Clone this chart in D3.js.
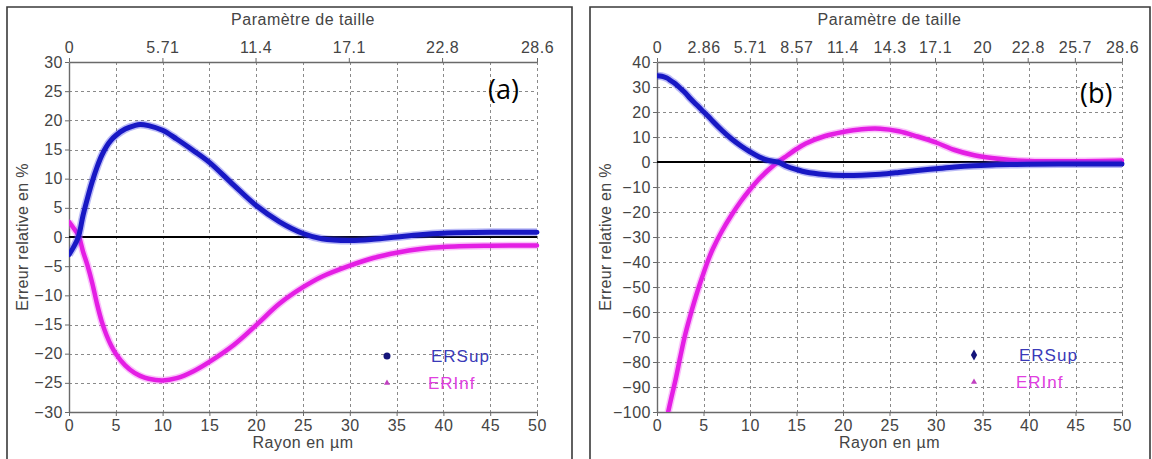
<!DOCTYPE html>
<html><head><meta charset="utf-8">
<script src="https://cdn.jsdelivr.net/npm/d3@7"></script>
<style>
html,body{margin:0;padding:0;background:#fff;}
svg{display:block;font-family:"Liberation Sans",Arial,sans-serif;}
</style></head>
<body>
<svg id="chart" width="1152" height="459"></svg>
<script>
// ---------- Data ----------
// Panel (a)
const radiusA = [0,0.5,1,1.5,2,2.5,3,3.5,4,4.5,5,6,7,7.6,8.5,10,11.5,13.3,15,17.6,20,22.5,25,27,30,32.5,35,37.5,40,45,50];
const erSupA  = [-3.0,-1.7,0,3.7,6.8,9.6,12,14.0,15.5,16.6,17.4,18.5,19.1,19.3,19.1,18.3,16.8,14.8,12.8,8.9,5.4,2.6,0.6,-0.3,-0.6,-0.4,0,0.4,0.65,0.8,0.8];
const erInfA  = [2.6,1.5,0.3,-2.5,-5,-8,-11.5,-14.5,-16.8,-18.6,-20,-22,-23.3,-23.8,-24.3,-24.6,-24.2,-23.0,-21.4,-18.5,-15.1,-11.4,-8.6,-6.8,-4.9,-3.6,-2.7,-2.05,-1.7,-1.5,-1.45];
// Panel (b)
const radiusB = [0,0.5,1,1.2,1.5,2,2.5,3,3.5,4,4.5,5,5.5,6,7,8,9,10,11,12,13,14,15,16,18,20,22,24,26,28,30,32,34,36,38,40,45,50];
const erSupB  = [34.5,34.3,33.7,33.3,32.5,31.2,29.5,27.8,25.7,23.8,22,20.1,18.3,16.3,12.6,9.3,6.5,4.1,2.0,0.6,0,-1.8,-3.0,-4.0,-5.0,-5.4,-5.3,-4.9,-4.2,-3.4,-2.7,-2.0,-1.5,-1.2,-1.0,-0.9,-0.8,-0.8];
const erInfB  = [null,null,null,-100,-95,-87,-78,-69.5,-62.5,-56,-50,-44.5,-39.3,-34.8,-27.5,-21.3,-15.8,-11,-6.7,-3.1,0,2.6,5.2,7.4,10.3,12.0,13.1,13.3,12.3,10.2,7.8,4.8,2.8,1.6,0.8,0.4,0.3,0.6];

const xTicks = [0,5,10,15,20,25,30,35,40,45,50];
const yTicksA = [-30,-25,-20,-15,-10,-5,0,5,10,15,20,25,30];
const yTicksB = [-100,-90,-80,-70,-60,-50,-40,-30,-20,-10,0,10,20,30,40];
const topLabelsA = ["0","5.71","11.4","17.1","22.8","28.6"];
const topLabelsB = ["0","2.86","5.71","8.57","11.4","14.3","17.1","20","22.8","25.7","28.6"];
const seriesNames = ["ERSup","ERInf"];

// ---------- Drawing ----------
const svg = d3.select("#chart");
const BLUE = "#1818c4", MAG = "#e41ee4";
const TXT = "#444";

function panel(cfg){
  const g = svg.append("g");
  // outer frame
  g.append("path").attr("d", `M${cfg.fx0},470 V7 H${cfg.fx1} V470`)
    .attr("fill","none").attr("stroke","#3a3a3a").attr("stroke-width",1.6);

  const x = d3.scaleLinear().domain([0,50]).range([cfg.l, cfg.r]);
  const y = d3.scaleLinear().domain(cfg.ydom).range([cfg.b, cfg.t]);
  const xTop = d3.scaleLinear().domain([0,28.6]).range([cfg.l, cfg.r]);

  // grid
  const grid = g.append("g").attr("stroke","#8a8a8a").attr("stroke-width",1).attr("stroke-dasharray","3,3");
  grid.selectAll("line.v").data(xTicks.slice(1)).join("line")
    .attr("x1",d=>Math.round(x(d))+0.5).attr("x2",d=>Math.round(x(d))+0.5)
    .attr("y1",cfg.t).attr("y2",cfg.b);
  grid.selectAll("line.h").data(cfg.yTicks.filter(v=>v!==0 && v!==cfg.ydom[0] && v!==cfg.ydom[1])).join("line")
    .attr("y1",d=>Math.round(y(d))+0.5).attr("y2",d=>Math.round(y(d))+0.5)
    .attr("x1",cfg.l).attr("x2",cfg.r);

  // axes
  const styleAxis = (sel)=>{
    sel.select(".domain").attr("stroke","#6a6a6a").attr("stroke-width",1.4);
    sel.selectAll(".tick line").attr("stroke","#6a6a6a");
    sel.selectAll(".tick text").attr("fill",TXT).attr("font-size",16).style("letter-spacing","0.5px");
  };
  g.append("g").attr("transform",`translate(0,${cfg.b})`)
    .call(d3.axisBottom(x).tickValues(xTicks).tickSize(4).tickSizeOuter(0).tickPadding(4))
    .call(styleAxis);
  g.append("g").attr("transform",`translate(${cfg.l},0)`)
    .call(d3.axisLeft(y).tickValues(cfg.yTicks).tickSize(4).tickSizeOuter(0).tickPadding(2))
    .call(styleAxis);
  const topVals = cfg.topLabels.map(Number);
  g.append("g").attr("transform",`translate(0,${cfg.t})`)
    .call(d3.axisTop(xTop).tickValues(topVals).tickFormat((d,i)=>cfg.topLabels[i]).tickSize(4).tickSizeOuter(0).tickPadding(5))
    .call(styleAxis);

  // zero line
  g.append("line").attr("x1",cfg.l).attr("x2",cfg.r)
    .attr("y1",y(0)).attr("y2",y(0)).attr("stroke","#000").attr("stroke-width",2);

  // curves
  const clipId = "clip"+cfg.id;
  g.append("clipPath").attr("id",clipId).append("rect")
    .attr("x",cfg.l).attr("y",cfg.t-3).attr("width",cfg.r-cfg.l+3).attr("height",cfg.b-cfg.t+3);
  const line = d3.line().defined(d=>d[1]!=null).x(d=>x(d[0])).y(d=>y(d[1])).curve(d3.curveCatmullRom.alpha(0.5));
  const series = [
    {vals: cfg.inf, color: MAG, w: 4.5, halo:"rgba(240,80,240,0.35)"},
    {vals: cfg.sup, color: BLUE, w: 5, halo:"rgba(60,60,230,0.35)"}
  ];
  const cg = g.append("g").attr("clip-path",`url(#${clipId})`);
  series.forEach(s=>{
    const pts = cfg.radius.map((r,i)=>[r,s.vals[i]]);
    cg.append("path").attr("d",line(pts)).attr("fill","none")
      .attr("stroke",s.halo).attr("stroke-width",s.w+3).attr("stroke-linejoin","round");
    cg.append("path").attr("d",line(pts)).attr("fill","none")
      .attr("stroke",s.color).attr("stroke-width",s.w).attr("stroke-linejoin","round").attr("stroke-linecap","round");
  });

  // titles
  const cx = (cfg.l+cfg.r)/2;
  g.append("text").attr("x",cx).attr("y",25).attr("text-anchor","middle")
    .attr("fill",TXT).attr("font-size",16).style("letter-spacing","0.5px").text("Paramètre de taille");
  g.append("text").attr("x",cx).attr("y",448).attr("text-anchor","middle")
    .attr("fill",TXT).attr("font-size",16).style("letter-spacing","0.5px").text("Rayon en µm");
  g.append("text").attr("transform",`translate(${cfg.fx0+21},${(cfg.t+cfg.b)/2}) rotate(-90)`)
    .attr("text-anchor","middle").attr("fill",TXT).attr("font-size",16).style("letter-spacing","0.3px")
    .text("Erreur relative en %");
  g.append("text").attr("x",cfg.tagX).attr("y",cfg.tagY).attr("fill","#000")
    .attr("font-family","'Open Sans', Lato, sans-serif").attr("font-size",27).text(cfg.tag);

  // legend
  const lx = cfg.legX, ly = cfg.legY;
  if(cfg.supMarker==="circle"){
    g.append("circle").attr("cx",lx).attr("cy",ly).attr("r",3.5).attr("fill","#15157a");
  } else {
    g.append("path").attr("d",d3.symbol(d3.symbolDiamond,34)()).attr("transform",`translate(${lx},${ly})`).attr("fill","#15157a");
  }
  g.append("path").attr("d",d3.symbol(d3.symbolTriangle,16)()).attr("transform",`translate(${lx},${ly+27})`).attr("fill","#c040c0");
  g.append("text").attr("x",cfg.legTX).attr("y",ly+6).attr("fill","#3a3ab8").attr("font-size",17)
    .style("letter-spacing","1px").text(seriesNames[0]);
  g.append("text").attr("x",cfg.legTX-3).attr("y",ly+33).attr("fill","#e040e0").attr("font-size",17)
    .style("letter-spacing","1px").text(seriesNames[1]);
}

panel({id:"a", fx0:7, fx1:572, l:69, r:537, t:62, b:412, ydom:[-30,30], yTicks:yTicksA,
  topLabels:topLabelsA, radius:radiusA, sup:erSupA, inf:erInfA,
  tag:"(a)", tagX:488, tagY:99, legX:387, legY:356, legTX:431, supMarker:"circle"});
panel({id:"b", fx0:590, fx1:1150, l:657, r:1122, t:62, b:412, ydom:[-100,40], yTicks:yTicksB,
  topLabels:topLabelsB, radius:radiusB, sup:erSupB, inf:erInfB,
  tag:"(b)", tagX:1080, tagY:103, legX:974, legY:355, legTX:1019, supMarker:"diamond"});
</script>
</body></html>
